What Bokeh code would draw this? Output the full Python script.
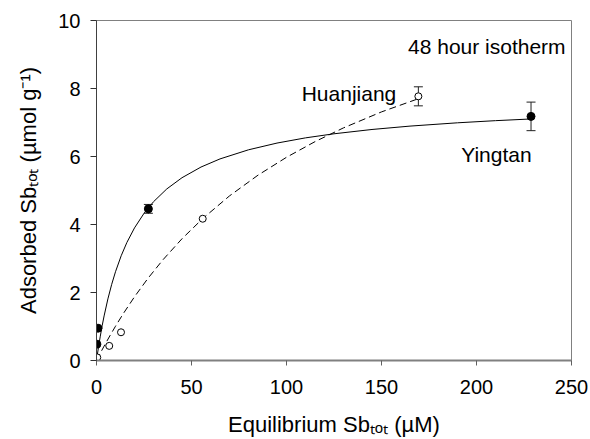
import math
from bokeh.plotting import figure
from bokeh.models import Range1d, Whisker, TeeHead, ColumnDataSource, Label, FixedTicker
from bokeh.embed import file_html
from bokeh.resources import INLINE

# ---- data ----
yt_c = [0.2, 0.8, 27.3, 228.7]
yt_q = [0.48, 0.95, 4.46, 7.18]
yt_err = [0.0, 0.0, 0.13, 0.42]

hj_c = [0.4, 6.7, 12.9, 55.9, 169.4]
hj_q = [0.09, 0.43, 0.83, 4.17, 7.77]
hj_err = [0.0, 0.0, 0.0, 0.0, 0.28]

# fitted isotherm curves
yt_fit_c = [0, 0.5, 1, 2, 3, 4, 6, 8, 10, 13, 16, 20, 25, 30, 37, 45, 55, 65, 80, 95,
            110, 125, 145, 165, 190, 210, 228.7]
yt_fit_q = [0, 0.19, 0.375, 0.716, 1.027, 1.311, 1.812, 2.24, 2.611, 3.081, 3.472, 3.90,
            4.328, 4.67, 5.046, 5.376, 5.69, 5.929, 6.197, 6.395, 6.548, 6.668, 6.795,
            6.894, 6.991, 7.054, 7.104]
hj_fit_c = [0, 0.5, 1, 2, 4, 7, 10, 14, 20, 27, 35, 45, 56, 70, 85, 100, 115, 130, 150, 169.4]
hj_fit_q = [0, 0.054, 0.108, 0.215, 0.423, 0.722, 1.008, 1.37, 1.874, 2.41, 2.964, 3.581,
            4.179, 4.841, 5.451, 5.977, 6.437, 6.842, 7.312, 7.70]

x_ticks = [0, 50, 100, 150, 200, 250]
y_ticks = [0, 2, 4, 6, 8, 10]

x_title = "Equilibrium Sb\u209c\u2092\u209c (\u00b5M)"
y_title = "Adsorbed Sb\u209c\u2092\u209c (\u00b5mol g\u207b\u00b9)"

FONT = "Liberation Sans"

p = figure(width=590, height=439, x_range=Range1d(0, 250), y_range=Range1d(0, 10),
           output_backend="svg", toolbar_location=None,
           min_border_left=96, min_border_right=19, min_border_top=20, min_border_bottom=78)
p.xgrid.visible = False
p.ygrid.visible = False
p.outline_line_color = "#808080"
p.outline_line_width = 1

for ax in (p.xaxis, p.yaxis):
    ax.minor_tick_line_color = None
    ax.major_tick_in = 0
    ax.major_label_text_font = FONT
    ax.major_label_text_font_size = "20px"
    ax.major_label_text_color = "black"
    ax.axis_label_text_font = FONT
    ax.axis_label_text_font_size = "22px"
    ax.axis_label_text_font_style = "normal"
    ax.axis_label_text_color = "black"
p.xaxis.ticker = FixedTicker(ticks=x_ticks)
p.yaxis.ticker = FixedTicker(ticks=y_ticks)
p.xaxis.axis_line_color = "#808080"
p.xaxis.axis_line_width = 2
p.xaxis.major_tick_line_color = "#606060"
p.xaxis.major_tick_out = 5
p.xaxis.major_label_standoff = 14
p.yaxis.axis_line_color = "#404040"
p.yaxis.major_tick_line_color = "#303030"
p.yaxis.major_tick_out = 6
p.yaxis.major_label_standoff = 10

p.xaxis.axis_label = x_title
p.xaxis.axis_label_standoff = 15
p.yaxis.axis_label = y_title
p.yaxis.axis_label_standoff = 14

# curves
p.line(yt_fit_c, yt_fit_q, line_color="black", line_width=1)
p.line(hj_fit_c, hj_fit_q, line_color="black", line_width=1, line_dash="7 4")

# error bars
def bars(c, q, e):
    xs = [ci for ci, ei in zip(c, e) if ei > 0]
    up = [qi + ei for qi, ei in zip(q, e) if ei > 0]
    lo = [qi - ei for qi, ei in zip(q, e) if ei > 0]
    src = ColumnDataSource(dict(x=xs, upper=up, lower=lo))
    w = Whisker(source=src, base="x", upper="upper", lower="lower",
                line_color="#202020", line_width=1,
                upper_head=TeeHead(size=9, line_color="#202020", line_width=1),
                lower_head=TeeHead(size=9, line_color="#202020", line_width=1))
    p.add_layout(w)

bars(yt_c, yt_q, yt_err)
bars(hj_c, hj_q, hj_err)

p.scatter(hj_c, hj_q, marker="circle", size=7, fill_color="white", line_color="black", line_width=1)
p.scatter(yt_c, yt_q, marker="circle", size=8, fill_color="black", line_color="black", line_width=1)

def lab(x, y, t, size, align="left"):
    p.add_layout(Label(x=x, y=y, text=t, text_font=FONT, text_font_size=size,
                       text_align=align, text_baseline="alphabetic",
                       text_color="black"))

lab(246.9, 9.23, "48 hour isotherm", "21px", "right")
lab(108.0, 7.84, "Huanjiang", "21px", "left")
lab(229.0, 6.06, "Yingtan", "21px", "right")

open("out.html", "w").write(file_html(p, INLINE))
